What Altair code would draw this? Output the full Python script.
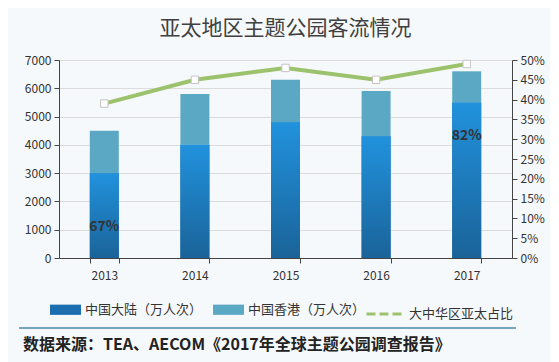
import altair as alt
import pandas as pd

years = ["2013", "2014", "2015", "2016", "2017"]
mainland = [3000, 4000, 4800, 4300, 5500]
hongkong = [1500, 1800, 1500, 1600, 1100]
share = [0.39, 0.45, 0.48, 0.45, 0.49]
label_years = ["2013", "2017"]
label_texts = ["67%", "82%"]
label_pos = [1100, 4300]
left_ticks = [0, 1000, 2000, 3000, 4000, 5000, 6000, 7000]
right_ticks = [0, 0.05, 0.10, 0.15, 0.20, 0.25, 0.30, 0.35, 0.40, 0.45, 0.50]

s_main = "中国大陆（万人次）"
s_hk = "中国香港（万人次）"
s_share = "大中华区亚太占比"
title_text = "亚太地区主题公园客流情况"
source_text = "数据来源：TEA、AECOM《2017年全球主题公园调查报告》"

bars_df = pd.DataFrame({
    "year": years * 2,
    "value": mainland + hongkong,
    "series": [s_main] * 5 + [s_hk] * 5,
    "ord": [0] * 5 + [1] * 5,
})
main_df = pd.DataFrame({"year": years, "value": mainland})
share_df = pd.DataFrame({"year": years, "share": share, "series": [s_share] * 5})
lab_df = pd.DataFrame({"year": label_years, "pos": label_pos, "text": label_texts})
src_df = pd.DataFrame({"text": [source_text]})

FONT = "Noto Sans CJK SC"
W, H = 453, 198
AX = "#444444"

yscale = alt.Scale(domain=[0, 7000])
rscale = alt.Scale(domain=[0, 0.5])
xscale = alt.Scale(paddingInner=0.68, paddingOuter=0.34)

xenc = alt.X("year:N", scale=xscale, axis=alt.Axis(
    title=None, labelAngle=0, tickBand="extent", domainColor=AX, tickColor=AX,
    labelColor="#333", labelFontSize=12, labelPadding=7, grid=False, tickSize=5,
    labelFont=FONT))

legend_common = dict(title=None, orient="none", direction="horizontal",
                     labelFont=FONT, labelFontSize=13, labelColor="#333",
                     columnPadding=10, labelOffset=4, legendY=234)

bars = alt.Chart(bars_df).mark_bar().encode(
    x=xenc,
    y=alt.Y("value:Q", stack="zero", scale=yscale, axis=alt.Axis(
        title=None, values=left_ticks, format="d", grid=True, gridColor="#dcdcdc",
        domainColor=AX, tickColor=AX, labelColor="#333", labelFontSize=12,
        tickSize=5, labelFont=FONT, labelPadding=3)),
    color=alt.Color("series:N", sort=[s_main, s_hk],
                    scale=alt.Scale(domain=[s_main, s_hk], range=["#1c6eae", "#5aa8c4"]),
                    legend=alt.Legend(symbolType="M-1,-0.33H1V0.33H-1Z", symbolSize=961,
                                      symbolStrokeWidth=0, legendX=-9, **legend_common)),
    order=alt.Order("ord:Q"),
)

grad = alt.Gradient(
    gradient="linear", x1=0, x2=0, y1=0, y2=1,
    stops=[alt.GradientStop(color="#2192dd", offset=0),
           alt.GradientStop(color="#1a6399", offset=1)])

over = alt.Chart(main_df).mark_bar(color=grad).encode(
    x=alt.X("year:N", scale=xscale),
    y=alt.Y("value:Q", scale=yscale, axis=None),
)

labels = alt.Chart(lab_df).mark_text(font=FONT, fontSize=14, fontWeight="bold",
                                     color="#333", baseline="middle").encode(
    x=alt.X("year:N", scale=xscale),
    y=alt.Y("pos:Q", scale=yscale, axis=None),
    text="text:N",
)

line = alt.Chart(share_df).mark_line(strokeWidth=4).encode(
    x=alt.X("year:N", scale=xscale),
    y=alt.Y("share:Q", scale=rscale, axis=alt.Axis(
        orient="right", title=None, values=right_ticks, format=".0%", grid=False,
        domainColor=AX, tickColor=AX, labelColor="#333", labelFontSize=12,
        tickSize=5, labelFont=FONT, labelPadding=3)),
    color=alt.Color("series:N", scale=alt.Scale(domain=[s_share], range=["#9dc26d"]),
                    legend=alt.Legend(symbolType="stroke", symbolDash=[9, 4], symbolSize=1369,
                                      symbolStrokeWidth=3, legendX=306, **legend_common)),
)

pts = alt.Chart(share_df).mark_point(shape="square", filled=True, fill="white",
                                     stroke="#c4c4c4", strokeWidth=1, size=55,
                                     opacity=1).encode(
    x=alt.X("year:N", scale=xscale),
    y=alt.Y("share:Q", scale=rscale, axis=None),
)

top = alt.layer(bars, over, labels, line, pts).resolve_scale(
    y="independent", color="independent"
).properties(
    width=W, height=H,
    title=alt.TitleParams(title_text, font=FONT, fontSize=21, fontWeight="normal",
                          color="#404040", frame="group", anchor="middle", offset=15),
)

rule = alt.Chart(src_df).mark_rule(color="#4a8aa8", strokeWidth=1.5).encode(
    x=alt.value(-40), x2=alt.value(457), y=alt.value(0))
src = alt.Chart(src_df).mark_text(align="left", baseline="middle", font=FONT,
                                  fontSize=16, fontWeight="bold", color="#222").encode(
    x=alt.value(-36), y=alt.value(17), text="text:N")
bottom = alt.layer(rule, src).properties(width=453, height=30)

chart = alt.vconcat(top, bottom, spacing=6).properties(
    padding={"left": 10, "top": 10, "right": 5, "bottom": 5}
).configure(
    background="#f6f9fb"
).configure_view(stroke=None)

chart.save("out.html", embed_options={"renderer": "svg", "actions": False})
